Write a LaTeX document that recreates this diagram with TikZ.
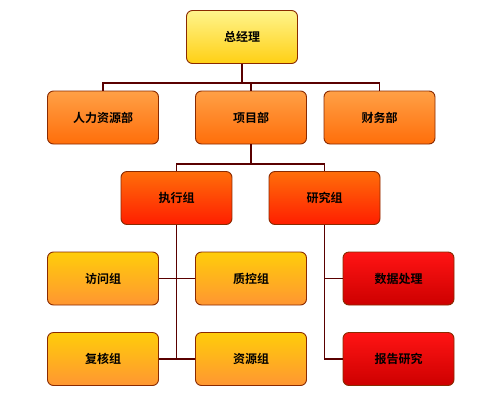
\documentclass[tikz,border=0pt]{standalone}
\usepackage{fontspec}
\newfontfamily\cjk{Noto Sans CJK SC}[BoldFont={Noto Sans CJK SC Bold}]
\definecolor{edgec}{HTML}{5A0000}
\definecolor{bordc}{HTML}{8A2A00}
\begin{document}
\begin{tikzpicture}[x=1pt,y=-1pt,
  box/.style={draw=bordc, line width=0.9pt, rounded corners=6pt,
    minimum width=111pt, minimum height=53pt, inner sep=0pt,
    font=\cjk\bfseries\fontsize{12pt}{14pt}\selectfont, text=black},
  topbox/.style={box, top color={rgb,255:red,255;green,244;blue,140}, bottom color={rgb,255:red,255;green,208;blue,20}},
  deptbox/.style={box, top color={rgb,255:red,255;green,160;blue,70}, bottom color={rgb,255:red,255;green,110;blue,10}},
  grpbox/.style={box, top color={rgb,255:red,255;green,110;blue,10}, bottom color={rgb,255:red,255;green,30;blue,0}},
  teambox/.style={box, top color={rgb,255:red,255;green,205;blue,10}, bottom color={rgb,255:red,255;green,150;blue,50}},
  redbox/.style={box, top color={rgb,255:red,255;green,20;blue,20}, bottom color={rgb,255:red,205;green,0;blue,0}},
  link/.style={draw=edgec, line width=1.7pt}]
\useasboundingbox (0,0) rectangle (490,400);
\fill[white] (0,0) rectangle (490,400);
% nodes
\node[topbox] (gm) at (242,37) {总经理};
\node[deptbox] (hr) at (103,117.5) {人力资源部};
\node[deptbox] (proj) at (251,117.5) {项目部};
\node[deptbox] (fin) at (379.5,117.5) {财务部};
\node[grpbox] (exec) at (176.5,198) {执行组};
\node[grpbox] (res) at (324.5,198) {研究组};
\node[teambox] (visit) at (103,278.5) {访问组};
\node[teambox] (qc) at (251,278.5) {质控组};
\node[redbox] (data) at (398.5,278.5) {数据处理};
\node[teambox] (check) at (103,359) {复核组};
\node[teambox] (src) at (251,359) {资源组};
\node[redbox] (rep) at (398.5,359) {报告研究};
% connectors
\coordinate (j1) at (gm.south |- 0,83);
\draw[link] (gm.south) -- (j1);
\draw[link] (hr.north) -- (hr.north |- j1) -- (fin.north |- j1) -- (fin.north);
\draw[link] (proj.north) -- (proj.north |- j1);
\coordinate (j2) at (proj.south |- 0,164);
\draw[link] (proj.south) -- (j2);
\draw[link] (exec.north) -- (exec.north |- j2) -- (res.north |- j2) -- (res.north);
\coordinate (e2) at (exec.south |- check.east);
\draw[link] (exec.south) -- (e2);
\draw[link] (visit.east) -- (qc.west);
\draw[link] (check.east) -- (src.west);
\coordinate (r2) at (res.south |- rep.west);
\draw[link] (res.south) -- (r2) -- (rep.west);
\draw[link] (res.south |- data.west) -- (data.west);
\end{tikzpicture}
\end{document}
